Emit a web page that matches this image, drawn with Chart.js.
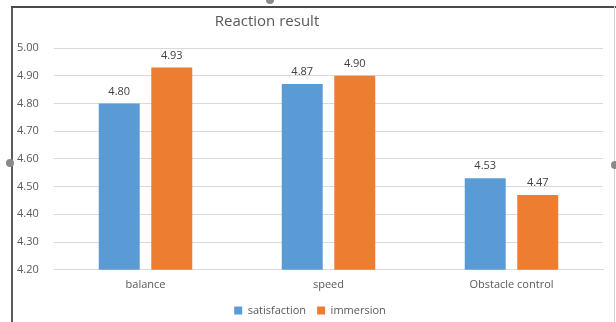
<!DOCTYPE html>
<html>
<head>
<meta charset="utf-8">
<script src="https://cdn.jsdelivr.net/npm/chart.js@4/dist/chart.umd.min.js"></script>
<style>
  html, body { margin: 0; padding: 0; background: #fff; }
  #wrap { position: relative; width: 616px; height: 322px; overflow: hidden; }
  #chart { position: absolute; left: 0; top: 0; }
  .frame { position: absolute; pointer-events: none; }
  #f-left { left: 11px; top: 6px; width: 2px; height: 316px; background: #5a5a5a; }
  #f-top { left: 11px; top: 6px; width: 605px; height: 2px; background: #4a4a4a; }
  #f-right { left: 614px; top: 6px; width: 1px; height: 316px; background: #d0d0d0; }
  .knob { position: absolute; width: 8px; height: 8px; border-radius: 50%; background: #8a8a8a; pointer-events: none; }
</style>
</head>
<body>
<div id="wrap">
  <canvas id="chart" width="616" height="322"></canvas>
  <div class="frame" id="f-left"></div>
  <div class="frame" id="f-top"></div>
  <div class="frame" id="f-right"></div>
  <div class="knob" style="left:266px; top:-4px;"></div>
  <div class="knob" style="left:6px; top:159px;"></div>
  <div class="knob" style="left:611px; top:161px;"></div>
</div>
<script>
  // Values.
  const CATEGORIES = ["balance", "speed", "Obstacle control"];
  const SATISFACTION = [4.80, 4.87, 4.53];
  const IMMERSION = [4.93, 4.90, 4.47];
  const TITLE = "Reaction result";

  const FONT = "'Open Sans', 'DejaVu Sans', sans-serif";
  const TEXT = "#595959";

  // Title sits left of centre in the original, so draw it by hand.
  const titlePlugin = {
    id: "offsetTitle",
    afterDraw(chart) {
      const ctx = chart.ctx;
      ctx.save();
      ctx.font = "15px " + FONT;
      ctx.fillStyle = TEXT;
      ctx.textAlign = "center";
      ctx.textBaseline = "middle";
      ctx.fillText(TITLE, 267, 22);
      ctx.restore();
    },
  };

  // Value labels above each bar.
  const valueLabels = {
    id: "valueLabels",
    afterDatasetsDraw(chart) {
      const ctx = chart.ctx;
      ctx.save();
      ctx.font = "11px " + FONT;
      ctx.fillStyle = "#404040";
      ctx.textAlign = "center";
      ctx.textBaseline = "middle";
      chart.data.datasets.forEach((ds, i) => {
        chart.getDatasetMeta(i).data.forEach((bar, j) => {
          ctx.fillText(ds.data[j].toFixed(2), bar.x, bar.y - 12);
        });
      });
      ctx.restore();
    },
  };

  new Chart(document.getElementById("chart"), {
    type: "bar",
    data: {
      labels: CATEGORIES,
      datasets: [
        { label: "satisfaction", data: SATISFACTION, backgroundColor: "#5b9bd5" },
        { label: "immersion", data: IMMERSION, backgroundColor: "#ed7d31" },
      ],
    },
    options: {
      responsive: false,
      animation: false,
      devicePixelRatio: 1,
      categoryPercentage: 0.574,
      barPercentage: 0.78,
      layout: { padding: { left: 17, right: 13, top: 48, bottom: -4 } },
      scales: {
        x: {
          grid: { display: false },
          border: { display: true, color: "#d9d9d9" },
          afterFit(axis) { axis.height += 3; },
          ticks: { color: TEXT, font: { family: FONT, size: 11 }, padding: 0 },
        },
        y: {
          min: 4.2,
          max: 5.0,
          grid: { color: "#d9d9d9", drawTicks: false },
          border: { display: false },
          afterFit(axis) { axis.width = 37; },
          ticks: {
            stepSize: 0.1,
            crossAlign: "far",
            color: TEXT,
            font: { family: FONT, size: 11 },
            callback: (v) => Number(v).toFixed(2),
          },
        },
      },
      plugins: {
        title: { display: false },
        tooltip: { enabled: false },
        legend: {
          position: "bottom",
          labels: {
            color: TEXT,
            font: { family: FONT, size: 11 },
            boxWidth: 8,
            boxHeight: 8,
            padding: 11,
          },
        },
      },
    },
    plugins: [titlePlugin, valueLabels],
  });
</script>
</body>
</html>
